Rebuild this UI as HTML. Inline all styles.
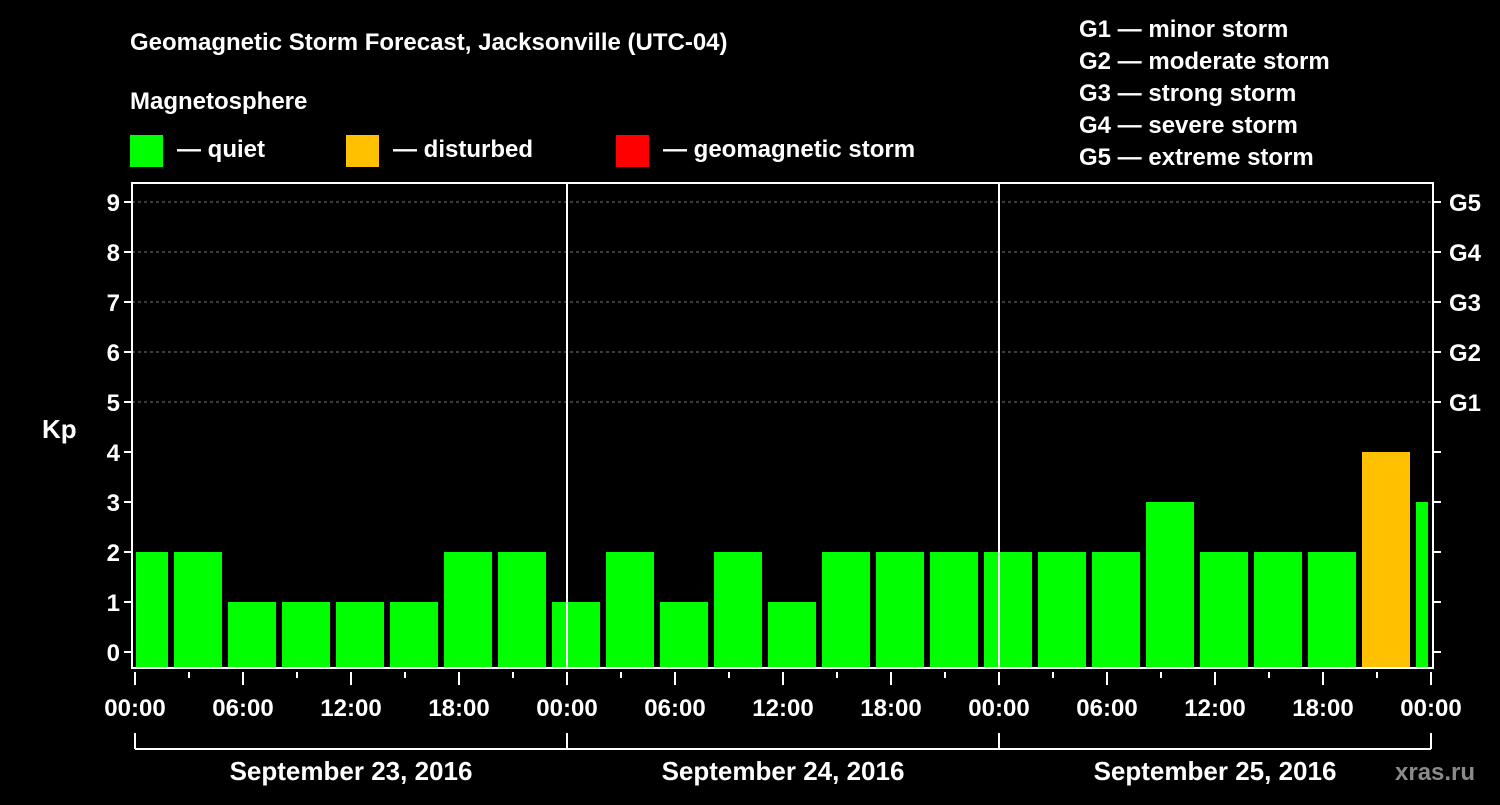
<!DOCTYPE html>
<html><head><meta charset="utf-8"><style>
body{margin:0;background:#000;}
svg text{font-family:"Liberation Sans",Arial,sans-serif;font-weight:bold;fill:#fff;}
</style></head><body>
<svg id="chart" width="1500" height="800" viewBox="0 0 1500 800">
<rect x="0" y="0" width="1500" height="800" fill="#000"/>
<text x="130" y="50" font-size="24">Geomagnetic Storm Forecast, Jacksonville (UTC-04)</text>
<text x="130" y="109" font-size="24">Magnetosphere</text>
<g><rect x="130" y="135" width="33" height="32" fill="#00ff00"/><text x="177" y="157" font-size="24">— quiet</text></g>
<g><rect x="346" y="135" width="33" height="32" fill="#ffc000"/><text x="393" y="157" font-size="24">— disturbed</text></g>
<g><rect x="616" y="135" width="33" height="32" fill="#ff0000"/><text x="663" y="157" font-size="24">— geomagnetic storm</text></g>
<g font-size="24">
<text x="1079" y="37">G1 — minor storm</text>
<text x="1079" y="69">G2 — moderate storm</text>
<text x="1079" y="101">G3 — strong storm</text>
<text x="1079" y="133">G4 — severe storm</text>
<text x="1079" y="165">G5 — extreme storm</text>
</g>
<text x="42" y="438" font-size="26">Kp</text>
<g id="plot"></g>
<text x="1395" y="780" font-size="24" fill="#888" style="fill:#8a8a8a">xras.ru</text>
</svg>
<script>
const kpValues=[2,2,1,1,1,1,2,2,1,2,1,2,1,2,2,2,2,2,2,3,2,2,2,4,3];
const yTickLabels=["0","1","2","3","4","5","6","7","8","9"];
const gLabels=["G1","G2","G3","G4","G5"];
const hourLabels=["00:00","06:00","12:00","18:00"];
const dayLabels=["September 23, 2016","September 24, 2016","September 25, 2016"];
const NS="http://www.w3.org/2000/svg";
const g=document.getElementById('plot');
const L=132,R=1433,T=183,B=668;
const x0=135,pxHour=18;
function xs(h){return x0+h*pxHour;}
function ys(v){return 652-v*50;}
function mk(tag,attrs,parent){const e=document.createElementNS(NS,tag);for(const k in attrs)e.setAttribute(k,attrs[k]);(parent||g).appendChild(e);return e;}
// gridlines
for(let v=5;v<=9;v++){const l=mk('line',{x1:L,x2:R,y1:ys(v),y2:ys(v),stroke:'#777','stroke-dasharray':'3,3','stroke-width':1});

}
// bars
const clip=mk('clipPath',{id:'pc'});mk('rect',{x:136,y:T,width:1292,height:B-T},clip);
kpValues.forEach((v,k)=>{const s=xs(-1+3*k);const col=v>=5?'#ff0000':(v>=4?'#ffc000':'#00ff00');
const r=mk('rect',{x:s+3,y:ys(v),width:48,height:B-ys(v),fill:col,'clip-path':'url(#pc)'});

});
// day separators
[1,2].forEach(d=>{const l=mk('line',{x1:xs(24*d),x2:xs(24*d),y1:T,y2:B,stroke:'#fff','stroke-width':2});

});
// frame
const f=mk('rect',{x:L,y:T,width:R-L,height:B-T,fill:'none',stroke:'#fff','stroke-width':2});


// y ticks
yTickLabels.forEach((t,i)=>{const y=ys(i);
mk('line',{x1:L-8,x2:L,y1:y,y2:y,stroke:'#fff','stroke-width':2});
mk('line',{x1:R,x2:R+8,y1:y,y2:y,stroke:'#fff','stroke-width':2});
const tx=mk('text',{x:L-12,y:y+9,'font-size':24,'text-anchor':'end'});tx.textContent=t;

});
gLabels.forEach((t,i)=>{const tx=mk('text',{x:R+16,y:ys(5+i)+9,'font-size':24});tx.textContent=t;

});
// x ticks
for(let h=0;h<=72;h+=3){const major=h%6===0;mk('line',{x1:xs(h),x2:xs(h),y1:B+4,y2:B+(major?17:10),stroke:'#fff','stroke-width':2});
if(major){const tx=mk('text',{x:xs(h),y:716,'font-size':24,'text-anchor':'middle'});tx.textContent=hourLabels[(h/6)%4];

}}
// day brackets
mk('line',{x1:xs(0),x2:xs(72),y1:749,y2:749,stroke:'#fff','stroke-width':2});
for(let d=0;d<=3;d++)mk('line',{x1:xs(24*d),x2:xs(24*d),y1:733,y2:749,stroke:'#fff','stroke-width':2});
dayLabels.forEach((t,d)=>{const tx=mk('text',{x:xs(24*d+12),y:780,'font-size':26,'text-anchor':'middle'});tx.textContent=t;

});
</script>
</body></html>
